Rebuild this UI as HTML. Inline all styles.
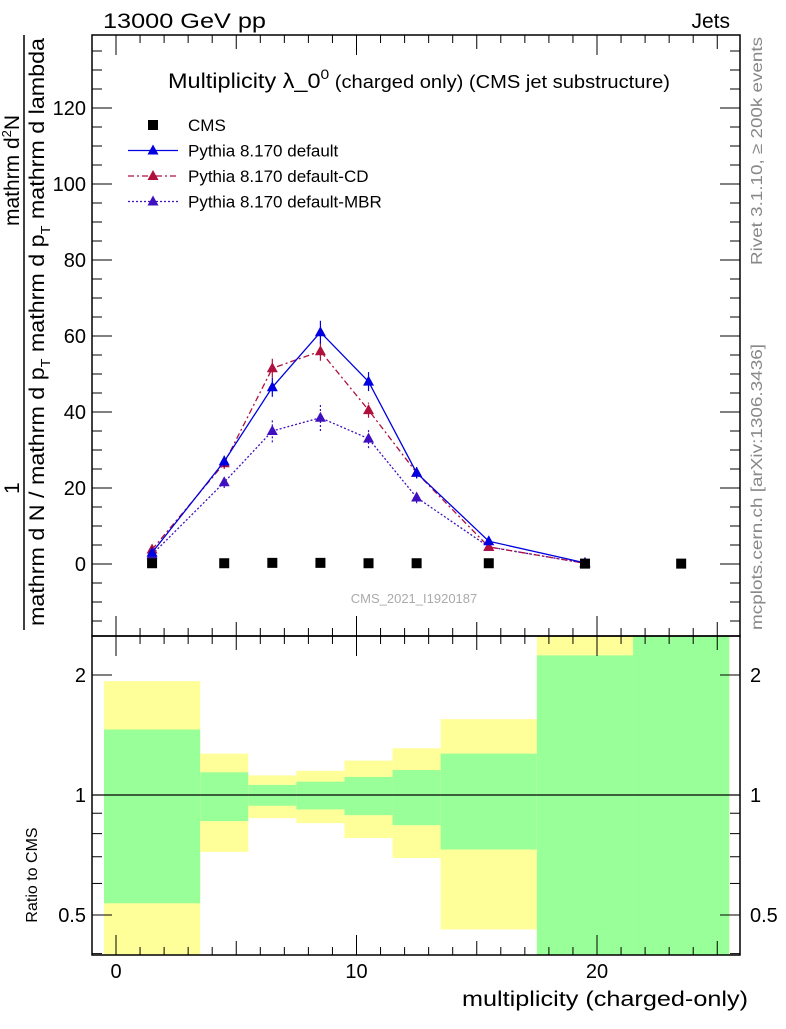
<!DOCTYPE html>
<html><head><meta charset="utf-8"><style>
body{margin:0;background:#fff;}
svg{font-family:"Liberation Sans",sans-serif;}
</style></head><body>
<svg id="c" width="786" height="1024" xmlns="http://www.w3.org/2000/svg">
<g id="ratio"></g>
<g id="main"></g>
<g id="axes"></g>
<text x="103" y="28" font-size="21" textLength="163" lengthAdjust="spacingAndGlyphs">13000 GeV pp</text>
<text x="730" y="28" font-size="21" text-anchor="end">Jets</text>
<text x="168" y="88" font-size="21" textLength="502" lengthAdjust="spacingAndGlyphs">Multiplicity λ_0<tspan dy="-9" font-size="14">0</tspan><tspan dy="9" font-size="18"> (charged only) (CMS jet substructure)</tspan></text>
<text x="414" y="603" font-size="13" fill="#aaa" text-anchor="middle">CMS_2021_I1920187</text>
<text transform="translate(762,265) rotate(-90)" font-size="16" fill="#888" textLength="228" lengthAdjust="spacingAndGlyphs">Rivet 3.1.10, ≥ 200k events</text>
<text transform="translate(762,630) rotate(-90)" font-size="16" fill="#888" textLength="286" lengthAdjust="spacingAndGlyphs">mcplots.cern.ch [arXiv:1306.3436]</text>
<g>
<line x1="24" y1="35" x2="24" y2="630" stroke="#000" stroke-width="1.5"/>
<text transform="translate(19,226) rotate(-90)" font-size="21">mathrm d<tspan dy="-8" font-size="13">2</tspan><tspan dy="8">N</tspan></text>
<text transform="translate(19,494) rotate(-90)" font-size="21">1</text>
<text transform="translate(44,626) rotate(-90)" font-size="21" textLength="588" lengthAdjust="spacingAndGlyphs">mathrm d N / mathrm d p<tspan dy="6" font-size="13">T</tspan><tspan dy="-6"> mathrm d p</tspan><tspan dy="6" font-size="13">T</tspan><tspan dy="-6"> mathrm d lambda</tspan></text>
</g>
<text transform="translate(37,875) rotate(-90)" font-size="16" text-anchor="middle">Ratio to CMS</text>
<text x="748" y="1006" font-size="21" text-anchor="end" textLength="286" lengthAdjust="spacingAndGlyphs">multiplicity (charged-only)</text>
<g id="legend"></g>
</svg>
<script>
const xCenters=[1.5,4.5,6.5,8.5,10.5,12.5,15.5,19.5,23.5];
const cmsVals=[0.2,0.2,0.3,0.3,0.2,0.2,0.2,0.1,0.1];
const pyX=[1.5,4.5,6.5,8.5,10.5,12.5,15.5,19.5];
const pyDefault=[3,27,46.5,61,48,24,6,0.3];
const pyDefErr=[0.5,1.5,2.5,3,2.5,1.5,0.5,0.1];
const pyCD=[3.8,26.5,51.5,56,40.5,24,4.5,0.2];
const pyCDErr=[0.5,1.5,2.5,2.5,2,1.5,0.5,0.1];
const pyMBR=[2.5,21.5,35,38.5,33,17.5,4.5,0.2];
const pyMBRErr=[0.5,1.5,3,3.5,2.5,1.5,0.5,0.1];
const binLo=[-0.5,3.5,5.5,7.5,9.5,11.5,13.5,17.5,21.5];
const binHi=[3.5,5.5,7.5,9.5,11.5,13.5,17.5,21.5,25.5];
const greenLo=[0.535,0.86,0.94,0.92,0.89,0.84,0.73,0.3,0.3];
const greenHi=[1.46,1.14,1.06,1.08,1.11,1.155,1.27,2.24,3];
const yellowLo=[0.3,0.72,0.875,0.85,0.78,0.695,0.46,0.3,0.3];
const yellowHi=[1.93,1.27,1.12,1.15,1.22,1.31,1.55,3,3];
const yTicks=[0,20,40,60,80,100,120];
const xTicks=[0,10,20];
const rTicks=[0.5,1,2];

const NS="http://www.w3.org/2000/svg";
const L=92,R=740,T=35,MB=636,RB=955;
const sx=v=>116+v*24.05;
const sy=v=>564-v*3.8;
const sr=v=>795-Math.log2(v)*120;
function mk(p,tag,at){const e=document.createElementNS(NS,tag);for(const k in at)e.setAttribute(k,at[k]);p.appendChild(e);return e;}
const main=document.getElementById('main'),ratio=document.getElementById('ratio'),axes=document.getElementById('axes'),leg=document.getElementById('legend');

for(let i=0;i<binLo.length;i++){
  const x0=sx(binLo[i]),x1=Math.min(sx(binHi[i]),R);
  const yb=Math.min(RB,sr(yellowLo[i])),yt=Math.max(MB,sr(yellowHi[i]));
  const y=mk(ratio,'rect',{x:x0,y:yt,width:x1-x0,height:yb-yt,fill:'#ffff99'});
  
  
  const gb=Math.min(RB,sr(greenLo[i])),gt=Math.max(MB,sr(greenHi[i]));
  const g=mk(ratio,'rect',{x:x0,y:gt,width:x1-x0,height:gb-gt,fill:'#99ff99'});
  
  
}
const one=mk(ratio,'line',{x1:L,x2:R,y1:sr(1),y2:sr(1),stroke:'#000','stroke-width':1.2});



function tri(p,x,y,c){return mk(p,'polygon',{points:`${x},${y-6} ${x-5.5},${y+4} ${x+5.5},${y+4}`,fill:c});}
function series(vals,errs,color,dash,name){
  const g=mk(main,'g',{});
  
  
  const pts=pyX.map((x,i)=>sx(x)+','+sy(vals[i])).join(' ');
  mk(g,'polyline',{points:pts,fill:'none',stroke:color,'stroke-width':1.3,'stroke-dasharray':dash});
  pyX.forEach((x,i)=>{
    mk(g,'line',{x1:sx(x),x2:sx(x),y1:sy(vals[i]-errs[i]),y2:sy(vals[i]+errs[i]),stroke:color,'stroke-width':1.2,'stroke-dasharray':dash});
    const t=tri(g,sx(x),sy(vals[i]),color);
    
    
  });
}
series(pyMBR,pyMBRErr,'#4010c0','2,2','series-mbr');
series(pyCD,pyCDErr,'#b0103c','6,3,2,3','series-cd');
series(pyDefault,pyDefErr,'#0000e0','','series-default');
xCenters.forEach((x,i)=>{
  const r=mk(main,'rect',{x:sx(x)-5,y:sy(cmsVals[i])-5,width:10,height:10,fill:'#000'});
  
  
});

mk(axes,'rect',{x:L,y:T,width:R-L,height:MB-T,fill:'none',stroke:'#000','stroke-width':1.5});
mk(axes,'rect',{x:L,y:MB,width:R-L,height:RB-MB,fill:'none',stroke:'#000','stroke-width':1.5});
for(let v=-15;v<=135;v+=5){const y=sy(v);if(y<T||y>MB)continue;const big=v%20===0;const w=big?20:10;
  mk(axes,'line',{x1:L,x2:L+w,y1:y,y2:y,stroke:'#000'});mk(axes,'line',{x1:R-w,x2:R,y1:y,y2:y,stroke:'#000'});}
yTicks.forEach(v=>{const t=mk(axes,'text',{x:L-6,y:sy(v)+7,'font-size':20,'text-anchor':'end'});t.textContent=v;
  
  });
for(let v=-1;v<=25.5;v+=1){const x=sx(v);if(x<L||x>R)continue;const big=v%10===0;const h=v%5===0?(big?20:14):8;
  mk(axes,'line',{x1:x,x2:x,y1:T,y2:T+h,stroke:'#000'});mk(axes,'line',{x1:x,x2:x,y1:MB,y2:MB+h,stroke:'#000'});mk(axes,'line',{x1:x,x2:x,y1:MB-h,y2:MB,stroke:'#000'});mk(axes,'line',{x1:x,x2:x,y1:RB-h,y2:RB,stroke:'#000'});}
xTicks.forEach(v=>{const t=mk(axes,'text',{x:sx(v),y:978,'font-size':20,'text-anchor':'middle'});t.textContent=v;
  
  });
[0.4,0.5,0.6,0.7,0.8,0.9,1,2].forEach(v=>{const y=sr(v);const w=(v===0.5||v===1||v===2)?20:10;
  mk(axes,'line',{x1:L,x2:L+w,y1:y,y2:y,stroke:'#000'});mk(axes,'line',{x1:R-w,x2:R,y1:y,y2:y,stroke:'#000'});});
rTicks.forEach(v=>{
  const t=mk(axes,'text',{x:L-6,y:sr(v)+7,'font-size':20,'text-anchor':'end'});t.textContent=v;
  
  
  const t2=mk(axes,'text',{x:R+10,y:sr(v)+7,'font-size':20});t2.textContent=v;
  
  });

const legItems=[['CMS','#000','',0],['Pythia 8.170 default','#0000e0','',1],['Pythia 8.170 default-CD','#b0103c','6,3,2,3',1],['Pythia 8.170 default-MBR','#4010c0','2,2',1]];
legItems.forEach((it,i)=>{const y=125+i*25.5;
  const g=mk(leg,'g',{});
  
  
  if(it[3]){mk(g,'line',{x1:128,x2:178,y1:y,y2:y,stroke:it[1],'stroke-width':1.3,'stroke-dasharray':it[2]});tri(g,153,y,it[1]);}
  else mk(g,'rect',{x:148,y:y-5,width:10,height:10,fill:'#000'});
  const t=mk(g,'text',{x:188,y:y+6,'font-size':17});t.textContent=it[0];});
</script>
</body></html>
